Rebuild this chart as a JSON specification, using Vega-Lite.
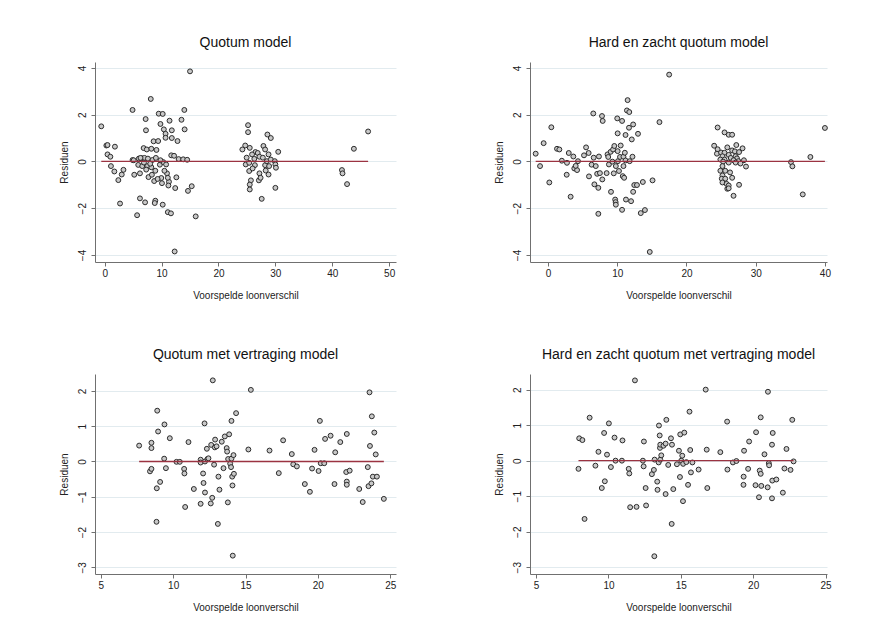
{
  "$schema": "https://vega.github.io/schema/vega-lite/v6.json",
  "background": "white",
  "padding": {"left": 58, "top": 36, "right": 5, "bottom": 5},
  "datasets": {
    "p1": [
      {"x":-0.6,"y":1.50},{"x":0.3,"y":0.68},{"x":0.5,"y":0.70},{"x":0.5,"y":0.30},{"x":1.0,"y":0.20},{"x":1.8,"y":0.63},{"x":1.1,"y":-0.20},{"x":1.7,"y":-0.43},{"x":2.4,"y":-0.80},{"x":2.7,"y":-1.80},{"x":3.0,"y":-0.56},{"x":3.3,"y":-0.36},{"x":4.9,"y":2.20},{"x":4.9,"y":0.06},{"x":5.1,"y":0.05},{"x":5.2,"y":-0.57},{"x":5.7,"y":-2.30},{"x":6.2,"y":-1.58},{"x":6.2,"y":-0.51},{"x":6.0,"y":0.12},{"x":5.9,"y":-0.15},{"x":6.6,"y":-0.20},{"x":6.5,"y":0.14},{"x":6.85,"y":0.57},{"x":7.0,"y":0.15},{"x":7.1,"y":-1.75},{"x":7.2,"y":1.81},{"x":7.26,"y":1.33},{"x":7.4,"y":0.51},{"x":7.6,"y":0.12},{"x":7.5,"y":-0.20},{"x":7.7,"y":-0.67},{"x":7.3,"y":-0.35},{"x":8.1,"y":2.67},{"x":8.2,"y":0.54},{"x":8.4,"y":0.06},{"x":8.3,"y":-0.57},{"x":8.6,"y":0.86},{"x":8.7,"y":-0.84},{"x":8.2,"y":-0.25},{"x":8.9,"y":-1.68},{"x":8.8,"y":-1.78},{"x":9.1,"y":0.49},{"x":9.4,"y":0.87},{"x":9.5,"y":2.04},{"x":9.7,"y":-0.14},{"x":8.9,"y":-0.40},{"x":9.8,"y":1.60},{"x":9.95,"y":-0.71},{"x":10.07,"y":-0.93},{"x":10.2,"y":2.03},{"x":10.3,"y":-0.03},{"x":9.8,"y":0.05},{"x":10.2,"y":-1.85},{"x":10.4,"y":1.37},{"x":10.7,"y":1.18},{"x":10.7,"y":1.01},{"x":10.8,"y":-0.13},{"x":10.95,"y":-0.51},{"x":11.1,"y":-2.17},{"x":11.3,"y":-0.87},{"x":11.2,"y":-1.03},{"x":11.4,"y":1.74},{"x":11.65,"y":-2.22},{"x":11.7,"y":0.26},{"x":11.8,"y":1.00},{"x":11.8,"y":1.33},{"x":12.2,"y":0.24},{"x":12.3,"y":-3.85},{"x":12.4,"y":-1.14},{"x":12.6,"y":-0.68},{"x":12.8,"y":0.87},{"x":13.0,"y":0.10},{"x":13.5,"y":1.78},{"x":13.8,"y":0.09},{"x":14.0,"y":2.20},{"x":14.05,"y":1.37},{"x":14.5,"y":0.07},{"x":14.64,"y":-1.26},{"x":15.0,"y":3.85},{"x":15.3,"y":-1.06},{"x":16.0,"y":-2.35},{"x":11.1,"y":-0.70},{"x":9.3,"y":-0.75},{"x":10.5,"y":-0.40},{"x":6.9,"y":-0.05},{"x":8.0,"y":-0.10},{"x":6.3,"y":0.15},{"x":9.0,"y":0.15},
      {"x":24.2,"y":0.51},{"x":24.7,"y":0.68},{"x":25.2,"y":1.55},{"x":25.2,"y":1.25},{"x":25.5,"y":0.58},{"x":24.95,"y":0.16},{"x":24.8,"y":-0.13},{"x":25.4,"y":-0.06},{"x":25.4,"y":-0.41},{"x":25.7,"y":-0.81},{"x":25.5,"y":-0.99},{"x":25.5,"y":-1.20},{"x":26.3,"y":0.11},{"x":26.5,"y":0.40},{"x":26.4,"y":-0.16},{"x":26.9,"y":0.36},{"x":27.2,"y":0.20},{"x":27.2,"y":-0.51},{"x":27.1,"y":-0.81},{"x":27.4,"y":-0.70},{"x":27.6,"y":-1.60},{"x":27.8,"y":0.16},{"x":27.9,"y":0.66},{"x":28.2,"y":0.51},{"x":28.2,"y":-0.16},{"x":28.3,"y":-0.39},{"x":28.5,"y":0.01},{"x":28.6,"y":1.15},{"x":28.8,"y":0.30},{"x":28.8,"y":-0.56},{"x":28.9,"y":-0.20},{"x":29.2,"y":1.00},{"x":29.2,"y":0.08},{"x":29.9,"y":0.01},{"x":30.0,"y":-0.13},{"x":30.1,"y":-0.27},{"x":30.0,"y":-1.13},{"x":30.5,"y":0.41},{"x":26.0,"y":-0.30},{"x":25.9,"y":0.30},
      {"x":41.7,"y":-0.37},{"x":41.8,"y":-0.51},{"x":42.6,"y":-0.97},{"x":43.8,"y":0.54},{"x":46.3,"y":1.28}
    ],
    "p2": [
      {"x":-1.78,"y":0.33},{"x":-1.15,"y":-0.20},{"x":-0.63,"y":0.78},{"x":0.19,"y":-0.90},{"x":0.48,"y":1.46},{"x":1.3,"y":0.54},{"x":1.64,"y":0.51},{"x":2.0,"y":0.03},{"x":2.74,"y":-0.06},{"x":2.7,"y":-0.57},{"x":3.0,"y":0.36},{"x":3.27,"y":-1.51},{"x":3.66,"y":0.21},{"x":3.8,"y":-0.30},{"x":4.2,"y":-0.37},{"x":4.0,"y":-0.19},{"x":4.33,"y":0.01},{"x":5.2,"y":0.26},{"x":5.5,"y":0.60},{"x":5.87,"y":0.36},{"x":5.92,"y":-0.64},{"x":6.3,"y":-0.14},{"x":6.54,"y":2.05},{"x":6.6,"y":0.16},{"x":6.7,"y":-0.98},{"x":6.9,"y":-0.20},{"x":7.1,"y":-0.53},{"x":7.27,"y":-1.13},{"x":7.27,"y":-2.24},{"x":7.36,"y":0.21},{"x":7.5,"y":-0.50},{"x":7.8,"y":1.94},{"x":7.9,"y":1.73},{"x":7.84,"y":-0.77},{"x":8.47,"y":-0.50},{"x":8.6,"y":0.30},{"x":8.7,"y":0.19},{"x":8.8,"y":-0.13},{"x":9.05,"y":0.41},{"x":9.1,"y":-1.30},{"x":9.3,"y":-0.01},{"x":9.4,"y":0.51},{"x":9.5,"y":-0.51},{"x":9.58,"y":0.66},{"x":9.7,"y":-1.63},{"x":9.77,"y":-1.74},{"x":9.8,"y":-1.85},{"x":9.8,"y":-0.20},{"x":10.0,"y":1.84},{"x":10.06,"y":1.20},{"x":10.06,"y":0.44},{"x":10.1,"y":0.01},{"x":10.25,"y":-0.41},{"x":10.4,"y":0.19},{"x":10.5,"y":0.68},{"x":10.7,"y":1.73},{"x":10.7,"y":-2.07},{"x":10.8,"y":-0.63},{"x":10.9,"y":-0.20},{"x":10.9,"y":0.20},{"x":11.0,"y":-0.70},{"x":11.1,"y":0.37},{"x":11.2,"y":0.04},{"x":11.26,"y":-1.63},{"x":11.2,"y":1.13},{"x":11.4,"y":2.18},{"x":11.5,"y":2.62},{"x":11.7,"y":1.44},{"x":11.74,"y":2.11},{"x":11.8,"y":0.01},{"x":12.0,"y":-1.70},{"x":12.1,"y":0.94},{"x":12.2,"y":0.20},{"x":12.3,"y":1.58},{"x":12.3,"y":-1.30},{"x":12.46,"y":-1.01},{"x":12.85,"y":-1.01},{"x":13.0,"y":1.18},{"x":13.4,"y":-2.21},{"x":13.7,"y":-0.88},{"x":14.0,"y":-2.08},{"x":14.7,"y":-3.87},{"x":15.1,"y":-0.81},{"x":16.1,"y":1.68},{"x":17.5,"y":3.71},
      {"x":24.0,"y":0.67},{"x":24.5,"y":1.45},{"x":24.5,"y":0.52},{"x":24.4,"y":0.33},{"x":25.0,"y":0.38},{"x":25.5,"y":1.24},{"x":25.5,"y":0.37},{"x":25.9,"y":0.60},{"x":26.1,"y":1.14},{"x":26.6,"y":1.14},{"x":26.6,"y":0.47},{"x":27.0,"y":0.43},{"x":27.2,"y":0.70},{"x":27.6,"y":0.40},{"x":28.1,"y":0.56},{"x":25.2,"y":0.22},{"x":26.1,"y":0.28},{"x":27.1,"y":0.22},{"x":24.9,"y":0.08},{"x":25.5,"y":0.08},{"x":26.4,"y":0.15},{"x":27.3,"y":0.13},{"x":27.5,"y":0.01},{"x":25.3,"y":-0.01},{"x":26.8,"y":0.05},{"x":28.3,"y":0.05},{"x":26.1,"y":-0.05},{"x":27.1,"y":-0.05},{"x":27.8,"y":-0.09},{"x":28.6,"y":-0.22},{"x":25.2,"y":-0.20},{"x":24.9,"y":-0.40},{"x":25.6,"y":-0.40},{"x":26.3,"y":-0.47},{"x":25.2,"y":-0.60},{"x":25.1,"y":-0.74},{"x":25.6,"y":-0.74},{"x":26.6,"y":-0.70},{"x":25.2,"y":-0.90},{"x":25.8,"y":-0.96},{"x":26.1,"y":-1.03},{"x":25.9,"y":-1.17},{"x":26.1,"y":-1.15},{"x":27.6,"y":-1.00},{"x":26.8,"y":-1.47},
      {"x":35.1,"y":-0.03},{"x":35.3,"y":-0.21},{"x":36.8,"y":-1.41},{"x":37.9,"y":0.19},{"x":40.0,"y":1.43}
    ],
    "p3": [
      {"x":7.65,"y":0.45},{"x":8.5,"y":0.53},{"x":8.5,"y":0.38},{"x":8.4,"y":-0.28},{"x":8.5,"y":-0.21},{"x":8.9,"y":1.44},{"x":8.96,"y":0.85},{"x":8.87,"y":-0.76},{"x":8.85,"y":-1.71},{"x":9.1,"y":-0.58},{"x":9.38,"y":0.08},{"x":9.4,"y":1.05},{"x":9.5,"y":-0.19},{"x":9.77,"y":0.66},{"x":10.23,"y":-0.01},{"x":10.46,"y":-0.01},{"x":10.76,"y":-0.21},{"x":10.78,"y":-0.34},{"x":10.83,"y":-1.29},{"x":11.06,"y":0.55},{"x":11.43,"y":-0.78},{"x":11.9,"y":-1.20},{"x":11.9,"y":0.05},{"x":11.9,"y":-0.03},{"x":12.07,"y":-0.34},{"x":12.1,"y":-0.61},{"x":12.17,"y":1.08},{"x":12.2,"y":0.0},{"x":12.2,"y":-0.88},{"x":12.33,"y":0.36},{"x":12.37,"y":0.07},{"x":12.44,"y":0.09},{"x":12.6,"y":-1.19},{"x":12.63,"y":0.47},{"x":12.7,"y":-1.03},{"x":12.74,"y":2.30},{"x":12.83,"y":-0.09},{"x":12.88,"y":0.40},{"x":12.9,"y":0.62},{"x":13.0,"y":0.43},{"x":13.09,"y":-1.77},{"x":13.13,"y":-0.43},{"x":13.2,"y":-0.80},{"x":13.36,"y":0.56},{"x":13.48,"y":-0.19},{"x":13.57,"y":0.71},{"x":13.7,"y":0.38},{"x":13.73,"y":0.28},{"x":13.78,"y":-1.16},{"x":13.8,"y":0.07},{"x":13.87,"y":0.77},{"x":13.94,"y":-0.06},{"x":14.0,"y":-0.16},{"x":14.03,"y":1.15},{"x":14.03,"y":0.08},{"x":14.08,"y":-0.43},{"x":14.1,"y":-0.68},{"x":14.12,"y":-2.67},{"x":14.17,"y":0.18},{"x":14.2,"y":-0.35},{"x":14.35,"y":1.37},{"x":15.2,"y":0.34},{"x":15.37,"y":2.03},{"x":16.66,"y":0.31},{"x":17.3,"y":-0.33},{"x":17.6,"y":0.60},{"x":18.2,"y":0.21},{"x":18.3,"y":-0.08},{"x":18.55,"y":-0.14},{"x":19.1,"y":-0.64},{"x":19.45,"y":-0.86},{"x":19.6,"y":-0.20},{"x":19.77,"y":0.33},{"x":20.05,"y":-0.27},{"x":20.14,"y":1.15},{"x":20.2,"y":-0.05},{"x":20.44,"y":-0.05},{"x":20.5,"y":0.64},{"x":20.88,"y":0.73},{"x":21.15,"y":-0.64},{"x":21.2,"y":0.26},{"x":21.55,"y":0.55},{"x":21.96,"y":-0.30},{"x":22.0,"y":-0.57},{"x":22.0,"y":-0.66},{"x":22.0,"y":0.78},{"x":22.2,"y":-0.26},{"x":22.86,"y":-0.78},{"x":23.1,"y":-1.15},{"x":23.45,"y":-0.16},{"x":23.5,"y":-0.70},{"x":23.57,"y":1.96},{"x":23.6,"y":0.44},{"x":23.7,"y":-0.62},{"x":23.73,"y":1.28},{"x":23.8,"y":-0.43},{"x":23.9,"y":0.82},{"x":24.0,"y":0.20},{"x":24.08,"y":-0.43},{"x":24.56,"y":-1.06}
    ],
    "p4": [
      {"x":7.93,"y":-0.23},{"x":7.98,"y":0.63},{"x":8.2,"y":0.58},{"x":8.35,"y":-1.64},{"x":8.7,"y":1.21},{"x":9.1,"y":-0.14},{"x":9.31,"y":0.25},{"x":9.54,"y":-0.77},{"x":9.7,"y":0.78},{"x":9.75,"y":-0.58},{"x":9.9,"y":0.17},{"x":10.03,"y":1.05},{"x":10.17,"y":-0.18},{"x":10.42,"y":0.65},{"x":10.49,"y":0.0},{"x":10.93,"y":0.0},{"x":10.97,"y":0.57},{"x":11.4,"y":-0.23},{"x":11.44,"y":-0.36},{"x":11.5,"y":-1.31},{"x":11.83,"y":2.26},{"x":11.94,"y":-1.30},{"x":12.38,"y":0.0},{"x":12.43,"y":-0.16},{"x":12.45,"y":0.54},{"x":12.57,"y":-0.77},{"x":12.6,"y":-1.26},{"x":13.0,"y":-0.38},{"x":13.14,"y":-0.26},{"x":13.19,"y":0.03},{"x":13.17,"y":-2.69},{"x":13.37,"y":-0.59},{"x":13.39,"y":-0.82},{"x":13.47,"y":-0.05},{"x":13.49,"y":0.99},{"x":13.54,"y":0.71},{"x":13.56,"y":0.36},{"x":13.58,"y":0.45},{"x":13.58,"y":0.03},{"x":13.65,"y":0.15},{"x":13.8,"y":0.42},{"x":13.95,"y":-0.94},{"x":13.95,"y":0.48},{"x":14.0,"y":1.15},{"x":14.13,"y":-0.12},{"x":14.32,"y":0.63},{"x":14.37,"y":-1.78},{"x":14.39,"y":0.45},{"x":14.48,"y":-0.80},{"x":14.73,"y":-0.10},{"x":14.87,"y":0.28},{"x":14.94,"y":-0.46},{"x":14.96,"y":0.74},{"x":15.03,"y":0.0},{"x":15.1,"y":0.14},{"x":15.15,"y":-1.14},{"x":15.16,"y":-0.09},{"x":15.24,"y":0.79},{"x":15.38,"y":-0.04},{"x":15.5,"y":-0.68},{"x":15.6,"y":1.38},{"x":15.65,"y":0.30},{"x":15.7,"y":-0.33},{"x":15.8,"y":-0.05},{"x":16.23,"y":-0.25},{"x":16.72,"y":2.0},{"x":16.79,"y":0.31},{"x":16.83,"y":-0.77},{"x":17.73,"y":0.24},{"x":18.2,"y":1.10},{"x":18.22,"y":-0.25},{"x":18.6,"y":-0.05},{"x":18.84,"y":-0.01},{"x":19.33,"y":-0.68},{"x":19.34,"y":-0.45},{"x":19.37,"y":0.28},{"x":19.65,"y":-0.23},{"x":19.72,"y":0.54},{"x":20.16,"y":-0.69},{"x":20.2,"y":0.80},{"x":20.4,"y":-1.03},{"x":20.45,"y":-0.28},{"x":20.52,"y":-0.37},{"x":20.52,"y":1.22},{"x":20.56,"y":-0.71},{"x":20.78,"y":0.18},{"x":21.0,"y":-0.75},{"x":21.02,"y":1.94},{"x":21.08,"y":-0.07},{"x":21.1,"y":-0.13},{"x":21.3,"y":0.45},{"x":21.32,"y":-0.56},{"x":21.35,"y":0.78},{"x":21.3,"y":-1.06},{"x":21.6,"y":-0.53},{"x":22.05,"y":-0.90},{"x":22.16,"y":-0.22},{"x":22.3,"y":0.33},{"x":22.58,"y":-0.26},{"x":22.7,"y":1.15},{"x":22.79,"y":-0.02}
    ]
  },
  "vconcat": [
    {
      "hconcat": [
        {
          "width": 301, "height": 200,
          "title": "Quotum model",
          "data": {"name": "p1"},
          "layer": [
            {"mark": {"type": "point", "shape": "circle", "filled": true, "fill": "#c8c8c8", "stroke": "#2b2b2b", "strokeWidth": 1, "size": 24, "opacity": 1},
             "encoding": {
               "x": {"field": "x", "type": "quantitative", "scale": {"domain": [-1.7, 51.2], "nice": false, "zero": false}, "axis": {"values": [0,10,20,30,40,50], "tickCount": 12, "format": "d", "title": "Voorspelde loonverschil"}},
               "y": {"field": "y", "type": "quantitative", "scale": {"domain": [-4.3, 4.25], "nice": false, "zero": false}, "axis": {"values": [-4,-2,0,2,4], "tickCount": 12, "format": "d", "title": "Residuen"}}
             }},
            {"mark": {"type": "rule", "color": "#9b3341", "strokeWidth": 1.3},
             "encoding": {"x": {"aggregate": "min", "field": "x", "type": "quantitative"}, "x2": {"aggregate": "max", "field": "x"}, "y": {"datum": 0}}}
          ]
        },
        {
          "width": 297, "height": 200,
          "title": "Hard en zacht quotum model",
          "data": {"name": "p2"},
          "layer": [
            {"mark": {"type": "point", "shape": "circle", "filled": true, "fill": "#c8c8c8", "stroke": "#2b2b2b", "strokeWidth": 1, "size": 24, "opacity": 1},
             "encoding": {
               "x": {"field": "x", "type": "quantitative", "scale": {"domain": [-2.6, 40.3], "nice": false, "zero": false}, "axis": {"values": [0,10,20,30,40], "tickCount": 12, "format": "d", "title": "Voorspelde loonverschil"}},
               "y": {"field": "y", "type": "quantitative", "scale": {"domain": [-4.3, 4.25], "nice": false, "zero": false}, "axis": {"values": [-4,-2,0,2,4], "tickCount": 12, "format": "d", "title": "Residuen"}}
             }},
            {"mark": {"type": "rule", "color": "#9b3341", "strokeWidth": 1.3},
             "encoding": {"x": {"aggregate": "min", "field": "x", "type": "quantitative"}, "x2": {"aggregate": "max", "field": "x"}, "y": {"datum": 0}}}
          ]
        }
      ],
      "spacing": 98
    },
    {
      "hconcat": [
        {
          "width": 301, "height": 200,
          "title": "Quotum met vertraging model",
          "data": {"name": "p3"},
          "layer": [
            {"mark": {"type": "point", "shape": "circle", "filled": true, "fill": "#c8c8c8", "stroke": "#2b2b2b", "strokeWidth": 1, "size": 24, "opacity": 1},
             "encoding": {
               "x": {"field": "x", "type": "quantitative", "scale": {"domain": [4.6, 25.4], "nice": false, "zero": false}, "axis": {"values": [5,10,15,20,25], "tickCount": 12, "format": "d", "title": "Voorspelde loonverschil"}},
               "y": {"field": "y", "type": "quantitative", "scale": {"domain": [-3.19, 2.48], "nice": false, "zero": false}, "axis": {"values": [-3,-2,-1,0,1,2], "tickCount": 12, "format": "d", "title": "Residuen"}}
             }},
            {"mark": {"type": "rule", "color": "#9b3341", "strokeWidth": 1.3},
             "encoding": {"x": {"aggregate": "min", "field": "x", "type": "quantitative"}, "x2": {"aggregate": "max", "field": "x"}, "y": {"datum": 0}}}
          ]
        },
        {
          "width": 297, "height": 200,
          "title": "Hard en zacht quotum met vertraging model",
          "data": {"name": "p4"},
          "layer": [
            {"mark": {"type": "point", "shape": "circle", "filled": true, "fill": "#c8c8c8", "stroke": "#2b2b2b", "strokeWidth": 1, "size": 24, "opacity": 1},
             "encoding": {
               "x": {"field": "x", "type": "quantitative", "scale": {"domain": [4.58, 25.1], "nice": false, "zero": false}, "axis": {"values": [5,10,15,20,25], "tickCount": 12, "format": "d", "title": "Voorspelde loonverschil"}},
               "y": {"field": "y", "type": "quantitative", "scale": {"domain": [-3.19, 2.44], "nice": false, "zero": false}, "axis": {"values": [-3,-2,-1,0,1,2], "tickCount": 12, "format": "d", "title": "Residuen"}}
             }},
            {"mark": {"type": "rule", "color": "#9b3341", "strokeWidth": 1.3},
             "encoding": {"x": {"aggregate": "min", "field": "x", "type": "quantitative"}, "x2": {"aggregate": "max", "field": "x"}, "y": {"datum": 0}}}
          ]
        }
      ],
      "spacing": 98
    }
  ],
  "spacing": 48,
  "config": {
    "font": "Liberation Sans",
    "view": {"stroke": null},
    "title": {"fontSize": 14, "fontWeight": "normal", "frame": "group", "anchor": "middle", "offset": 12, "color": "#111111", "font": "Liberation Sans"},
    "axis": {
      "labelFont": "Liberation Sans", "titleFont": "Liberation Sans",
      "labelFontSize": 10, "titleFontSize": 10, "titleFontWeight": "normal",
      "labelColor": "#222222", "titleColor": "#222222",
      "domainColor": "#707070", "tickColor": "#707070", "domainWidth": 1, "tickWidth": 1, "tickSize": 4,
      "gridColor": "#e2ebef", "gridWidth": 1,
      "labelFlush": false, "labelOverlap": false
    },
    "axisX": {"grid": false, "labelPadding": 2, "titlePadding": 12},
    "axisY": {"grid": true, "labelAngle": 270, "labelAlign": "center", "labelBaseline": "bottom", "labelPadding": 4, "titlePadding": 8}
  }
}
